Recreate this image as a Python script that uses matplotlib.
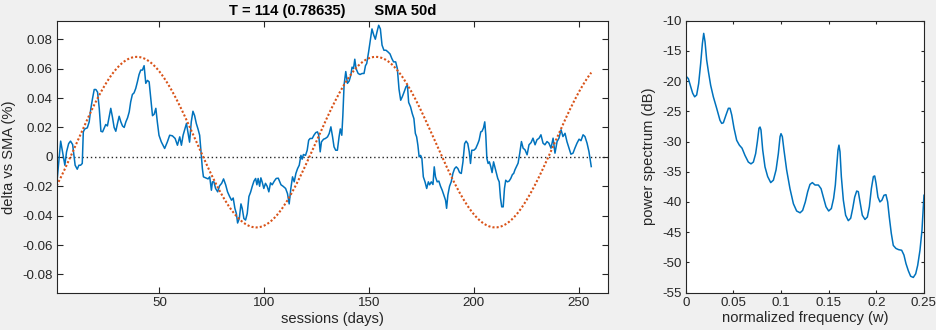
import matplotlib
matplotlib.use("Agg")
import matplotlib.pyplot as plt
import numpy as np

plt.rcParams['font.family'] = ['Liberation Sans', 'DejaVu Sans']

# delta of close vs 50 day SMA, by session
session_days = [1, 2.9, 4.1, 4.9, 5.7, 6.7, 7.6, 8.6, 9.8, 10.8, 11.6, 12.4, 13.2, 13.7, 14.4,
                15.6, 16.5, 17.3, 18.1, 18.9, 19.7, 20.5, 21.3, 22.1, 22.9, 23.7, 24.4, 25.2,
                26.0, 26.8, 27.6, 28.4, 29.2, 30.0, 30.8, 31.6, 32.4, 33.2, 34.0, 34.8, 35.6,
                36.3, 37.1, 37.9, 38.7, 39.5, 40.3, 41.1, 41.9, 42.7, 43.5, 44.3, 45.1, 45.9,
                46.7, 47.5, 48.3, 49.0, 49.8, 50.9, 52.5, 53.8, 54.9, 56.2, 57.5, 58.6, 59.7,
                60.5, 61.3, 62.9, 63.7, 64.4, 65.2, 66.0, 66.8, 67.6, 68.4, 69.2, 70.0, 70.5,
                71.0, 72.1, 73.2, 74.0, 74.8, 75.3, 76.0, 76.8, 77.8, 78.7, 79.7, 80.6, 81.6,
                82.5, 83.5, 84.4, 85.2, 86.0, 86.7, 87.3, 88.1, 88.9, 89.5, 90.3, 91.1, 91.9,
                92.7, 93.5, 94.3, 95.1, 95.9, 96.5, 97.1, 97.8, 98.4, 99.0, 99.8, 100.6, 101.4,
                102.2, 103.0, 103.8, 104.8, 105.7, 106.7, 108.0, 109.0, 110.2, 111.1, 111.9,
                112.7, 113.5, 114.3, 115.1, 115.9, 116.7, 117.5, 118.1, 118.7, 119.7, 120.5,
                121.2, 121.9, 122.9, 123.7, 124.6, 125.4, 126.0, 126.7, 127.3, 128.3, 129.2,
                130.2, 131.0, 131.8, 132.6, 133.3, 134.1, 134.9, 135.7, 136.3, 137.0, 137.5,
                138.1, 138.9, 139.7, 140.5, 141.3, 141.9, 142.6, 143.2, 143.8, 144.8, 145.7,
                146.7, 147.6, 148.3, 148.9, 149.8, 150.6, 151.4, 152.2, 153.0, 153.8, 154.6,
                155.4, 156.2, 157.1, 158.1, 159.0, 160.0, 160.9, 161.7, 162.7, 163.5, 164.3,
                165.1, 165.9, 166.7, 167.6, 168.3, 168.9, 169.8, 170.6, 171.4, 172.1, 172.7,
                173.3, 173.9, 174.6, 175.2, 175.9, 176.7, 177.5, 178.3, 178.9, 179.7, 180.5,
                181.1, 181.7, 182.5, 183.3, 184.1, 184.9, 185.7, 186.5, 187.0, 187.6, 188.4,
                189.2, 190.0, 190.8, 191.6, 192.4, 193.2, 194.0, 194.8, 195.6, 196.3, 197.1,
                197.8, 198.4, 199.0, 200.0, 200.9, 201.9, 202.5, 203.3, 203.9, 204.6, 205.2,
                205.7, 206.2, 206.8, 207.4, 208.1, 208.7, 209.4, 210.0, 210.6, 211.4, 212.1,
                212.7, 213.3, 214.0, 214.6, 215.2, 216.0, 216.8, 217.6, 218.4, 219.0, 219.6,
                221.1, 221.9, 222.7, 223.5, 224.4, 225.4, 226.3, 227.3, 228.2, 229.2, 230.1,
                231.1, 232.0, 233.0, 233.9, 234.9, 235.8, 236.8, 237.8, 238.7, 239.7, 240.6,
                241.6, 242.5, 243.5, 244.4, 245.4, 246.3, 247.3, 248.2, 249.2, 250.2, 251.1,
                252.1, 253.0, 254.0, 254.9, 256.0]
delta_sma = [-0.019, 0.0107, 0.001, -0.0057, 0.0034, 0.009, 0.0107, 0.0084, -0.0057, -0.0084,
             -0.0057, -0.0057, -0.0045, 0.017, 0.019, 0.0197, 0.0238, 0.0329, 0.0397, 0.0458,
             0.0458, 0.044, 0.033, 0.0174, 0.017, 0.0197, 0.022, 0.021, 0.027, 0.033, 0.027,
             0.020, 0.0174, 0.0227, 0.0276, 0.0238, 0.021, 0.020, 0.0238, 0.0265, 0.0306,
             0.0374, 0.0424, 0.0435, 0.0465, 0.051, 0.056, 0.059, 0.059, 0.062, 0.050, 0.052,
             0.051, 0.0397, 0.028, 0.029, 0.033, 0.0238, 0.0147, 0.0102, 0.0057, 0.0102,
             0.0147, 0.0143, 0.0125, 0.0079, 0.0136, 0.0079, 0.0147, 0.0227, 0.0159, 0.010,
             0.0238, 0.031, 0.028, 0.0227, 0.019, 0.0147, 0.001, -0.008, -0.0136, -0.0143,
             -0.015, -0.0136, -0.0227, -0.017, -0.017, -0.0215, -0.0238, -0.0197, -0.018,
             -0.015, -0.019, -0.0238, -0.027, -0.0295, -0.028, -0.035, -0.0385, -0.045,
             -0.042, -0.032, -0.035, -0.042, -0.043, -0.0385, -0.027, -0.024, -0.020, -0.0165,
             -0.0147, -0.019, -0.0147, -0.020, -0.0143, -0.017, -0.0215, -0.018, -0.020,
             -0.0238, -0.0177, -0.019, -0.0165, -0.0147, -0.0145, -0.019, -0.020, -0.0215,
             -0.025, -0.032, -0.0215, -0.0136, -0.017, -0.0113, -0.008, -0.0057, 0.001,
             -0.0016, 0.0016, 0.001, 0.0045, 0.0113, 0.0125, 0.0125, 0.0147, 0.0165, 0.017,
             0.0147, 0.0034, 0.0102, 0.012, 0.0125, 0.0136, 0.0159, 0.0204, 0.0136, 0.0068,
             0.0045, 0.0045, 0.0136, 0.019, 0.0147, 0.028, 0.049, 0.058, 0.050, 0.0515, 0.0555,
             0.061, 0.060, 0.0664, 0.060, 0.0567, 0.056, 0.0567, 0.0567, 0.062, 0.0635, 0.0714,
             0.079, 0.087, 0.083, 0.080, 0.085, 0.0895, 0.087, 0.076, 0.0725, 0.0725, 0.0714,
             0.070, 0.0668, 0.0646, 0.0646, 0.060, 0.046, 0.0385, 0.041, 0.044, 0.0476, 0.0487,
             0.037, 0.034, 0.0295, 0.026, 0.0159, 0.0136, 0.0079, 0.0, 0.001, -0.001, -0.0136,
             -0.017, -0.0215, -0.017, -0.019, -0.017, -0.0188, -0.0068, -0.0136, -0.017,
             -0.0165, -0.020, -0.0227, -0.026, -0.0295, -0.035, -0.026, -0.020, -0.017,
             -0.0113, -0.008, -0.0068, -0.008, -0.0107, -0.0113, -0.0034, 0.009, 0.0107, 0.009,
             0.0034, -0.0045, 0.0045, 0.0045, 0.0057, 0.009, 0.0113, 0.017, 0.0174, 0.0197,
             0.0238, 0.0147, -0.001, -0.0045, -0.0034, -0.0068, -0.0107, -0.0034, -0.0068,
             -0.0102, -0.0147, -0.017, -0.028, -0.034, -0.034, -0.0215, -0.0159, -0.017,
             -0.0165, -0.0147, -0.012, -0.0113, -0.0088, -0.0043, 0.0025, 0.0104, 0.0059,
             0.0048, 0.0014, 0.0082, 0.0097, 0.0127, 0.0082, 0.0116, 0.0127, 0.015, 0.0093,
             0.0082, 0.0104, 0.0093, 0.0059, 0.0127, 0.0025, 0.0104, 0.0127, 0.0184, 0.0138,
             0.016, 0.0104, 0.0059, 0.0018, 0.0025, 0.0059, 0.0093, 0.012, 0.011, 0.015,
             0.0138, 0.0093, 0.0036, -0.0066]

# fitted cycle: period T, correlation, amplitude, offset and phase
period_T = 114
fit_corr = 0.78635
fit_amp = 0.058
fit_offset = 0.010
fit_peak_day = 39.2
n_sessions = 256

# power spectrum of the delta series
norm_freq = [0.001, 0.0028, 0.0052, 0.0073, 0.0094, 0.0115, 0.0136, 0.0157, 0.0175, 0.0189,
             0.0203, 0.022, 0.0238, 0.0262, 0.029, 0.0325, 0.036, 0.0378, 0.0395, 0.0423,
             0.0448, 0.0465, 0.0483, 0.0507, 0.0535, 0.0563, 0.0591, 0.0622, 0.0657, 0.0685,
             0.071, 0.0734, 0.0752, 0.0769, 0.078, 0.079, 0.0808, 0.0832, 0.086, 0.0892, 0.092,
             0.0948, 0.0972, 0.099, 0.1, 0.1014, 0.1031, 0.1059, 0.1094, 0.113, 0.1164, 0.12,
             0.1227, 0.1255, 0.128, 0.1304, 0.1329, 0.1357, 0.1392, 0.142, 0.1444, 0.1472,
             0.15, 0.1528, 0.1552, 0.157, 0.1584, 0.1598, 0.1608, 0.1619, 0.1633, 0.1654,
             0.1678, 0.1706, 0.1731, 0.1752, 0.1773, 0.1794, 0.1811, 0.1829, 0.1853, 0.1881,
             0.1906, 0.1927, 0.1948, 0.1969, 0.1983, 0.1997, 0.2017, 0.2038, 0.2059, 0.208,
             0.2101, 0.2119, 0.2136, 0.2157, 0.2178, 0.2206, 0.2234, 0.2266, 0.229, 0.2311,
             0.2336, 0.236, 0.2388, 0.2413, 0.2434, 0.2458, 0.2479, 0.25]
power_db = [-19.3, -19.6, -20.9, -22.0, -22.6, -22.3, -20.4, -17.1, -13.8, -12.1, -13.5, -16.5,
            -18.4, -20.7, -22.6, -24.5, -26.5, -27.0, -26.9, -25.6, -24.5, -24.5, -25.6, -27.8,
            -29.8, -30.6, -31.1, -32.3, -33.4, -33.7, -33.4, -32.0, -30.0, -27.8, -27.6, -28.1,
            -31.4, -34.2, -35.8, -36.8, -36.4, -34.7, -32.0, -29.2, -28.7, -29.2, -31.4, -34.7,
            -37.8, -40.3, -41.5, -41.8, -41.4, -40.0, -38.3, -37.1, -36.8, -37.2, -37.2, -37.8,
            -39.2, -40.8, -41.5, -41.1, -39.4, -37.2, -34.2, -31.4, -30.6, -31.7, -35.8, -39.7,
            -42.2, -43.1, -42.7, -41.1, -39.2, -38.2, -38.3, -40.0, -42.2, -42.9, -42.5, -40.8,
            -37.8, -35.8, -35.7, -36.9, -39.2, -40.0, -39.7, -38.9, -38.8, -40.0, -42.5, -45.2,
            -47.2, -47.7, -47.9, -48.0, -48.8, -50.2, -51.4, -52.3, -52.5, -51.9, -50.5, -48.0,
            -44.7, -38.9]

blue = '#0072BD'
orange = '#D95319'
ink = '#262626'

fig = plt.figure(figsize=(9.37, 3.30), dpi=100, facecolor='#F0F0F0')
ax1 = fig.add_axes([0.0605, 0.1121, 0.5884, 0.8252])
ax2 = fig.add_axes([0.7318, 0.1135, 0.2543, 0.8238])

days = np.arange(1, n_sessions + 1)
fit_curve = fit_offset + fit_amp * np.cos(2 * np.pi * (days - fit_peak_day) / period_T)

ax1.axhline(0, color=ink, lw=1.0, ls=(0, (1, 2)))
ax1.plot(session_days, delta_sma, color=blue, lw=1.1)
ax1.plot(days, fit_curve, color=orange, lw=1.5, ls=(0, (1, 1)))
ax1.set_xlim(1, 264)
ax1.set_ylim(-0.0926, 0.0926)
ax1.set_xticks([50, 100, 150, 200, 250])
yt = [-0.08, -0.06, -0.04, -0.02, 0, 0.02, 0.04, 0.06, 0.08]
ax1.set_yticks(yt)
ax1.set_yticklabels(['-0.08', '-0.06', '-0.04', '-0.02', '0', '0.02', '0.04', '0.06', '0.08'])
ax1.set_title('T = %d (%.5f)       SMA 50d' % (period_T, fit_corr),
              fontsize=10.6, fontweight='bold', color='black', pad=4)
ax1.set_xlabel('sessions (days)', fontsize=10.6, color=ink, labelpad=2)
ax1.set_ylabel('delta vs SMA (%)', fontsize=10.6, color=ink, labelpad=4)

ax2.plot(norm_freq, power_db, color=blue, lw=1.1)
ax2.set_xlim(0, 0.25)
ax2.set_ylim(-55, -10)
ax2.set_xticks([0, 0.05, 0.1, 0.15, 0.2, 0.25])
ax2.set_xticklabels(['0', '0.05', '0.1', '0.15', '0.2', '0.25'])
ax2.set_yticks(range(-55, -9, 5))
ax2.set_yticklabels([str(v) for v in range(-55, -9, 5)])
ax2.set_xlabel('normalized frequency (w)', fontsize=10.6, color=ink, labelpad=2)
ax2.set_ylabel('power spectrum (dB)', fontsize=10.6, color=ink, labelpad=4)

for ax, tl in ((ax1, 4.0), (ax2, 2.0)):
    ax.set_facecolor('white')
    for s in ax.spines.values():
        s.set_color(ink)
        s.set_linewidth(0.8)
    ax.tick_params(direction='in', top=True, right=True, length=tl, width=0.8,
                   colors=ink, labelsize=9.6, pad=3)

fig.savefig('out.png', dpi=100, facecolor=fig.get_facecolor())
